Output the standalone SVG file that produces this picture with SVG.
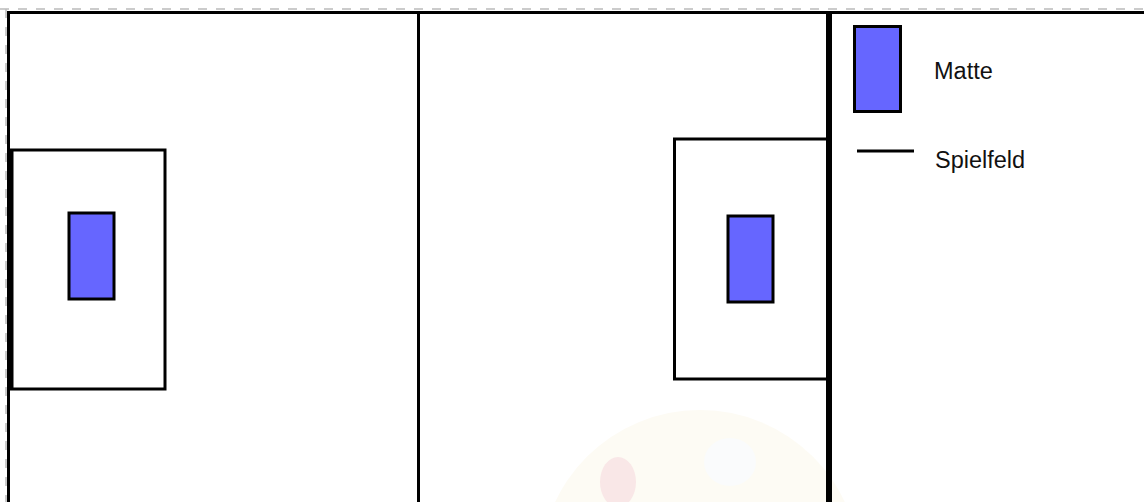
<svg xmlns="http://www.w3.org/2000/svg" width="1144" height="502" viewBox="0 0 1144 502">
<style>
.ln{stroke:#000;stroke-width:3;fill:none}
.box{stroke:#000;stroke-width:3;fill:#fff}
.mat{stroke:#000;stroke-width:3;fill:#6666ff}
.lbl{font-family:"Liberation Sans",Arial,sans-serif;font-size:23.5px;fill:#111}
</style>
<rect width="1144" height="502" fill="#fff"/>
<g id="watermark" opacity="0.4">
<ellipse cx="700" cy="570" rx="160" ry="160" fill="#fbf6e4"/>
<ellipse cx="618" cy="482" rx="18" ry="25" fill="#f2c4c4"/>
<ellipse cx="730" cy="462" rx="26" ry="24" fill="#f4f6f8"/>
</g>
<g id="border">
<line x1="0" y1="9" x2="1144" y2="9" stroke="#bbb" stroke-width="1.5" stroke-dasharray="9,9"/>
<line x1="6" y1="9" x2="6" y2="502" stroke="#bbb" stroke-width="1.5" stroke-dasharray="9,9"/>
</g>
<g id="field">
<line class="ln" x1="8" y1="12.5" x2="1144" y2="12.5"/>
<line class="ln" x1="8.5" y1="11" x2="8.5" y2="502"/>
<line class="ln" x1="418.5" y1="12" x2="418.5" y2="502"/>
<line x1="829" y1="12" x2="829" y2="502" stroke="#000" stroke-width="6"/>
</g>
<g id="goal-left">
<rect class="box" x="11" y="150" width="154" height="239"/>
<line x1="11" y1="150" x2="11" y2="389" stroke="#000" stroke-width="5"/>
<rect class="mat" x="69" y="213" width="45" height="86"/>
</g>
<g id="goal-right">
<rect class="box" x="674.5" y="139" width="153" height="240"/>
<rect class="mat" x="728" y="216" width="45" height="86"/>
</g>
<g id="legend">
<rect class="mat" x="854.5" y="26.5" width="46" height="85"/>
<text class="lbl" x="934" y="79">Matte</text>
<line class="ln" x1="857" y1="151" x2="914" y2="151"/>
<text class="lbl" x="935" y="168">Spielfeld</text>
</g>
</svg>
